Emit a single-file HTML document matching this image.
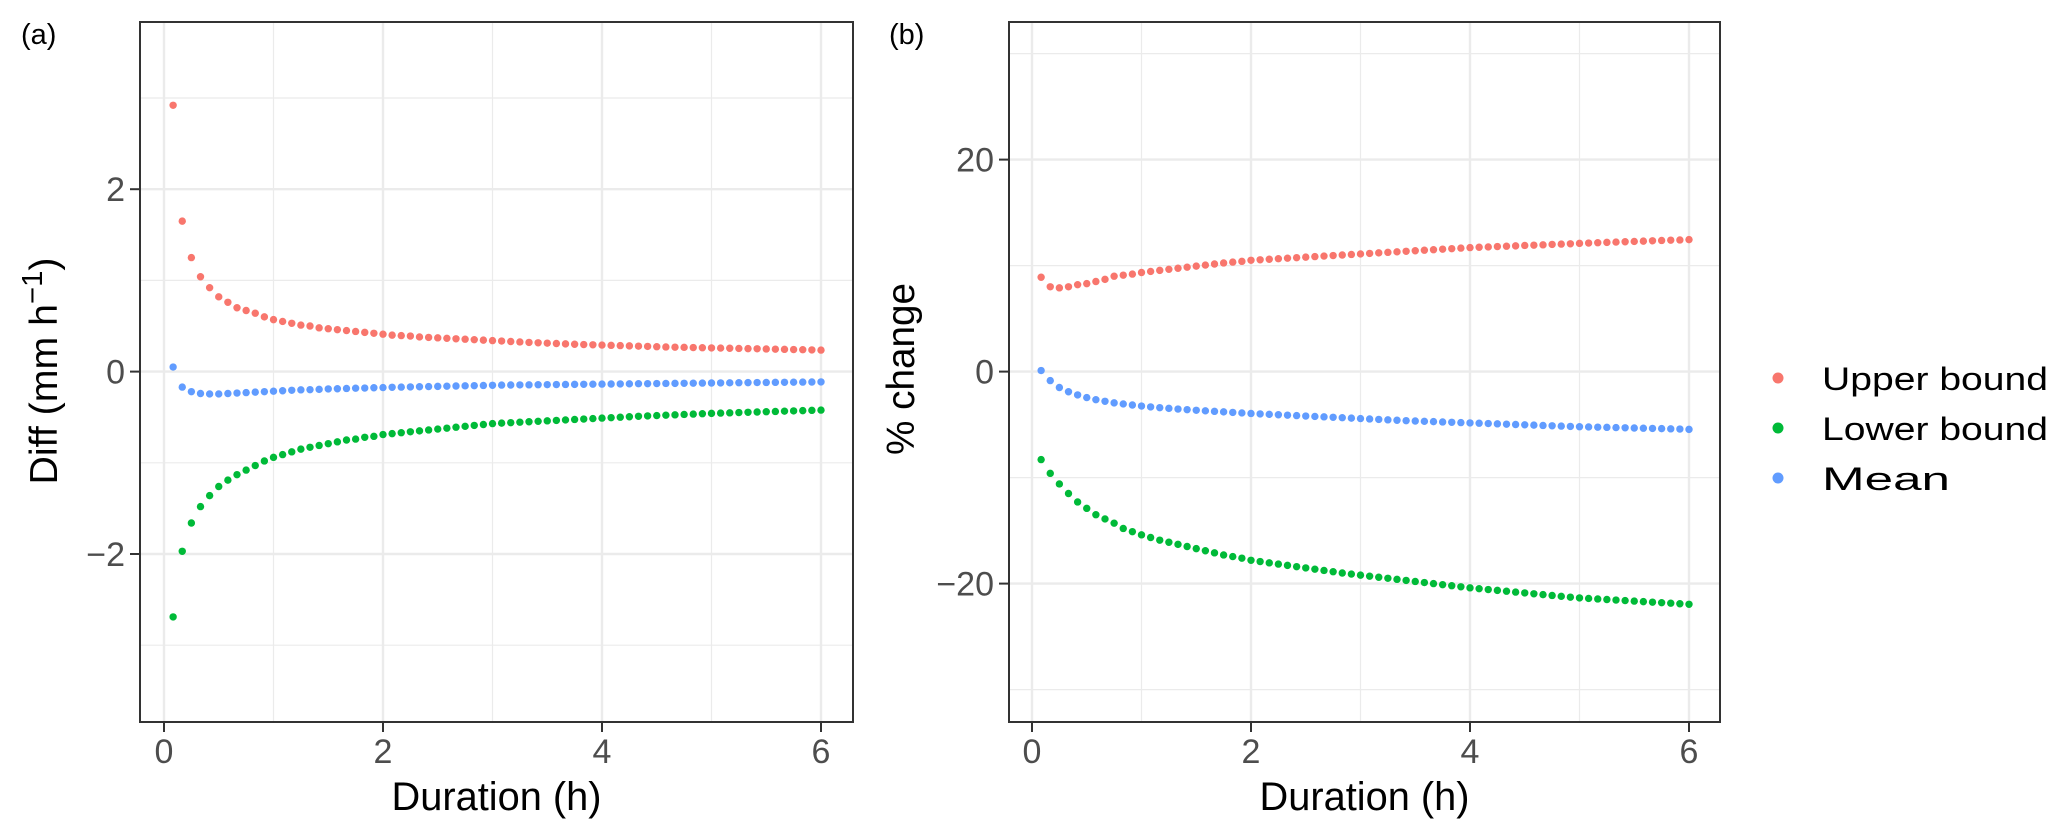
<!DOCTYPE html>
<html><head><meta charset="utf-8"><style>
html,body{margin:0;padding:0;background:#fff;}
svg{display:block;font-family:"Liberation Sans",Arial,sans-serif;}
</style></head><body>
<svg id="chart" width="2067" height="835" viewBox="0 0 2067 835" xmlns="http://www.w3.org/2000/svg"></svg>
<script>
const durationsMin = [5,10,15,20,25,30,35,40,45,50,55,60,65,70,75,80,85,90,95,100,105,110,115,120,125,130,135,140,145,150,155,160,165,170,175,180,185,190,195,200,205,210,215,220,225,230,235,240,245,250,255,260,265,270,275,280,285,290,295,300,305,310,315,320,325,330,335,340,345,350,355,360];
const diffUpper = [2.92,1.65,1.25,1.04,0.92,0.82,0.76,0.70,0.67,0.64,0.60,0.57,0.55,0.53,0.51,0.50,0.48,0.47,0.46,0.45,0.44,0.43,0.42,0.41,0.40,0.395,0.39,0.38,0.375,0.37,0.365,0.36,0.355,0.35,0.345,0.34,0.335,0.33,0.325,0.32,0.316,0.312,0.308,0.304,0.30,0.297,0.294,0.291,0.288,0.285,0.282,0.279,0.276,0.273,0.27,0.268,0.266,0.264,0.262,0.26,0.258,0.256,0.254,0.252,0.25,0.248,0.246,0.244,0.242,0.24,0.238,0.236];
const diffLower = [-2.69,-1.97,-1.66,-1.48,-1.36,-1.26,-1.19,-1.13,-1.08,-1.03,-0.98,-0.94,-0.91,-0.88,-0.85,-0.83,-0.81,-0.79,-0.77,-0.75,-0.74,-0.72,-0.71,-0.69,-0.68,-0.67,-0.66,-0.65,-0.64,-0.63,-0.62,-0.61,-0.60,-0.59,-0.58,-0.57,-0.565,-0.56,-0.555,-0.55,-0.545,-0.54,-0.535,-0.53,-0.525,-0.52,-0.515,-0.51,-0.505,-0.50,-0.495,-0.49,-0.486,-0.482,-0.478,-0.474,-0.47,-0.466,-0.462,-0.458,-0.455,-0.452,-0.449,-0.446,-0.443,-0.44,-0.437,-0.434,-0.431,-0.428,-0.425,-0.422];
const diffMean = [0.05,-0.17,-0.22,-0.24,-0.245,-0.245,-0.24,-0.235,-0.23,-0.225,-0.22,-0.215,-0.21,-0.205,-0.20,-0.198,-0.195,-0.19,-0.188,-0.185,-0.182,-0.18,-0.177,-0.175,-0.172,-0.17,-0.168,-0.166,-0.164,-0.162,-0.16,-0.158,-0.156,-0.154,-0.152,-0.15,-0.148,-0.147,-0.146,-0.145,-0.144,-0.143,-0.142,-0.141,-0.14,-0.139,-0.138,-0.137,-0.136,-0.135,-0.134,-0.133,-0.132,-0.131,-0.13,-0.129,-0.128,-0.127,-0.126,-0.125,-0.124,-0.123,-0.122,-0.121,-0.12,-0.119,-0.118,-0.117,-0.116,-0.115,-0.114,-0.113];
const pctUpper = [8.9,8.0,7.9,8.0,8.2,8.3,8.5,8.7,9.0,9.1,9.2,9.35,9.45,9.55,9.65,9.75,9.85,9.95,10.05,10.15,10.25,10.33,10.4,10.5,10.55,10.6,10.65,10.7,10.75,10.8,10.85,10.9,10.95,11.0,11.05,11.1,11.15,11.2,11.25,11.3,11.35,11.4,11.45,11.5,11.55,11.6,11.65,11.7,11.73,11.76,11.8,11.83,11.86,11.9,11.93,11.96,12.0,12.03,12.06,12.1,12.13,12.16,12.19,12.22,12.25,12.28,12.31,12.34,12.37,12.4,12.42,12.45];
const pctLower = [-8.3,-9.6,-10.6,-11.5,-12.3,-12.9,-13.5,-13.9,-14.3,-14.8,-15.1,-15.4,-15.65,-15.9,-16.1,-16.3,-16.5,-16.7,-16.9,-17.1,-17.3,-17.45,-17.6,-17.8,-17.92,-18.04,-18.16,-18.28,-18.4,-18.52,-18.64,-18.76,-18.88,-19.0,-19.1,-19.2,-19.3,-19.4,-19.5,-19.6,-19.7,-19.8,-19.9,-20.0,-20.1,-20.2,-20.3,-20.4,-20.48,-20.56,-20.64,-20.72,-20.8,-20.88,-20.96,-21.04,-21.12,-21.2,-21.28,-21.35,-21.4,-21.45,-21.5,-21.55,-21.6,-21.65,-21.7,-21.75,-21.8,-21.85,-21.9,-21.95];
const pctMean = [0.1,-0.85,-1.5,-1.9,-2.2,-2.45,-2.65,-2.8,-2.95,-3.05,-3.15,-3.25,-3.33,-3.4,-3.47,-3.53,-3.59,-3.65,-3.7,-3.75,-3.8,-3.85,-3.9,-3.95,-3.99,-4.03,-4.07,-4.11,-4.15,-4.19,-4.23,-4.27,-4.31,-4.35,-4.39,-4.43,-4.47,-4.51,-4.55,-4.59,-4.63,-4.66,-4.69,-4.72,-4.75,-4.78,-4.81,-4.84,-4.87,-4.9,-4.93,-4.96,-4.99,-5.02,-5.05,-5.08,-5.11,-5.14,-5.17,-5.2,-5.22,-5.24,-5.26,-5.28,-5.3,-5.32,-5.34,-5.36,-5.38,-5.4,-5.42,-5.45];
const xTicks = [0,2,4,6];
const xMinor = [1,3,5];
const aTicks = [-2,0,2];
const aTickLabels = ["\u22122","0","2"];
const aMinor = [-3,-1,1,3];
const bTicks = [-20,0,20];
const bTickLabels = ["\u221220","0","20"];
const bMinor = [-30,-10,10,30];
const seriesNames = ["Upper bound","Lower bound","Mean"];
const seriesColors = ["#F8766D","#00BA38","#619CFF"];

const NS="http://www.w3.org/2000/svg";
const svg=document.getElementById('chart');
function mk(tag,attrs,parent){const e=document.createElementNS(NS,tag);for(const k in attrs)e.setAttribute(k,attrs[k]);(parent||svg).appendChild(e);return e;}

function panel(cfg){
  const g=mk('g',{});
  
  
  const L=cfg.left,R=cfg.right,T=22,B=722;
  const xs=v=>cfg.x0+(v)*109.5;
  const ys=v=>cfg.y0-v*cfg.ky;
  mk('rect',{x:L,y:T,width:R-L,height:B-T,fill:'#fff'},g);
  cfg.minor.forEach(v=>{const l=mk('line',{x1:L,x2:R,y1:ys(v),y2:ys(v),stroke:'#EBEBEB','stroke-width':1.2},g);});
  xMinor.forEach(v=>{const l=mk('line',{x1:xs(v),x2:xs(v),y1:T,y2:B,stroke:'#EBEBEB','stroke-width':1.2},g);});
  cfg.ticks.forEach(v=>{const l=mk('line',{x1:L,x2:R,y1:ys(v),y2:ys(v),stroke:'#EBEBEB','stroke-width':2.4},g);});
  xTicks.forEach(v=>{const l=mk('line',{x1:xs(v),x2:xs(v),y1:T,y2:B,stroke:'#EBEBEB','stroke-width':2.4},g);});
  cfg.series.forEach((arr,si)=>{
    arr.forEach((v,i)=>{
      const c=mk('circle',{cx:xs(durationsMin[i]/60),cy:ys(v),r:3.7,fill:seriesColors[si]},g);
      
      
    });
  });
  const border=mk('rect',{x:L,y:T,width:R-L,height:B-T,fill:'none',stroke:'#333','stroke-width':2},g);
  
  
  cfg.ticks.forEach((v,i)=>{
    mk('line',{x1:L-10,x2:L,y1:ys(v),y2:ys(v),stroke:'#333','stroke-width':2},g);
    const t=mk('text',{x:L-15,y:ys(v)+12,'text-anchor':'end','font-size':34,fill:'#4D4D4D'},g);
    t.textContent=cfg.tickLabels[i];
    
    
  });
  xTicks.forEach(v=>{
    mk('line',{x1:xs(v),x2:xs(v),y1:B,y2:B+10,stroke:'#333','stroke-width':2},g);
    const t=mk('text',{x:xs(v),y:763,'text-anchor':'middle','font-size':34,fill:'#4D4D4D'},g);
    t.textContent=String(v);
    
    
  });
  const xt=mk('text',{x:(L+R)/2,y:810,'text-anchor':'middle','font-size':40,fill:'#000',textLength:210,lengthAdjust:'spacingAndGlyphs'},g);
  xt.textContent='Duration (h)';
  
  
  const lab=mk('text',{x:cfg.labX,y:44,'font-size':29,fill:'#000'},g);
  lab.textContent=cfg.label;
  
  
  return {g,ys};
}

const pa=panel({name:'panel-a',left:140,right:853,x0:164,y0:371.6,ky:91.2,ticks:aTicks,tickLabels:aTickLabels,minor:aMinor,series:[diffUpper,diffLower,diffMean],label:'(a)',labX:21});
const ya=mk('text',{x:0,y:0,'text-anchor':'middle','font-size':39,fill:'#000',transform:'translate(57,371) rotate(-90)',textLength:227,lengthAdjust:'spacingAndGlyphs'});


ya.innerHTML='Diff (mm h<tspan dy="-15" font-size="29">\u22121</tspan><tspan dy="15">)</tspan>';

const pb=panel({name:'panel-b',left:1009,right:1720,x0:1032,y0:371.6,ky:10.6,ticks:bTicks,tickLabels:bTickLabels,minor:bMinor,series:[pctUpper,pctLower,pctMean],label:'(b)',labX:889});
const yb=mk('text',{x:0,y:0,'text-anchor':'middle','font-size':39,fill:'#000',transform:'translate(914,369) rotate(-90)',textLength:172,lengthAdjust:'spacingAndGlyphs'});
yb.textContent='% change';



const leg=mk('g',{});


const legY=[378,428,478];
const legW=[226,226,128];
seriesNames.forEach((n,i)=>{
  const c=mk('circle',{cx:1778,cy:legY[i],r:5.5,fill:seriesColors[i]},leg);
  
  
  const t=mk('text',{x:1822,y:legY[i]+12,'font-size':32,fill:'#000',textLength:legW[i],lengthAdjust:'spacingAndGlyphs'},leg);
  t.textContent=n;
  
  
});
</script>
</body></html>
